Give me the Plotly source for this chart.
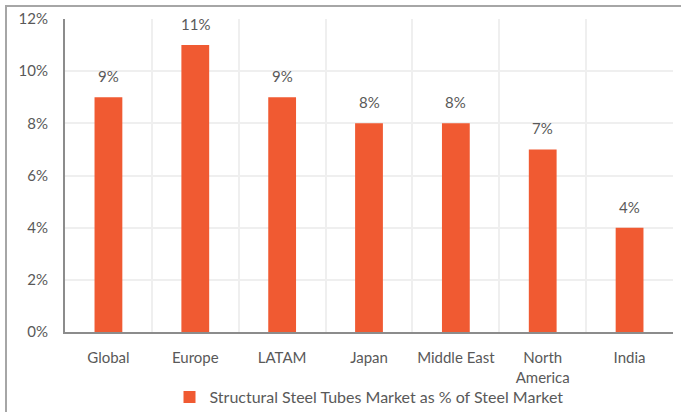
import plotly.graph_objects as go

regions = ["Global", "Europe", "LATAM", "Japan", "Middle East", "North<br>America", "India"]
share_pct = [9, 11, 9, 8, 8, 7, 4]
value_labels = ["9%", "11%", "9%", "8%", "8%", "7%", "4%"]
y_ticks = [0, 2, 4, 6, 8, 10, 12]
y_tick_labels = ["0%", "2%", "4%", "6%", "8%", "10%", "12%"]
series_name = "Structural Steel Tubes Market as % of Steel Market"

BAR = "#F05A32"
TXT = "#595959"
FONT = "Lato"

W, H = 681, 412
L, R, T, B = 65, 8, 19, 80
pw, ph = W - L - R, H - T - B

fig = go.Figure()
fig.add_trace(go.Bar(
    x=regions, y=share_pct, name=series_name,
    marker=dict(color=BAR, line=dict(width=0)),
    width=0.32, showlegend=True, hoverinfo="skip",
))

for r, v, lab in zip(regions, share_pct, value_labels):
    fig.add_annotation(x=r, y=v, text=lab, showarrow=False, yanchor="bottom",
                       yshift=10, font=dict(family=FONT, size=15, color=TXT))

# outer frame (left and top edges)
x0 = (6 - L) / pw
y0 = 1 + (T - 6) / ph
fig.add_shape(type="path", xref="paper", yref="paper",
              path=f"M {x0} -0.5 L {x0} {y0} L 1.1 {y0}",
              line=dict(color="#A6A6A6", width=2))

fig.update_layout(
    width=W, height=H,
    margin=dict(l=L, r=R, t=T, b=B, pad=0, autoexpand=False),
    paper_bgcolor="white", plot_bgcolor="white",
    font=dict(family=FONT, size=15, color=TXT),
    bargap=0.68,
    legend=dict(orientation="h", x=0.5, xanchor="center", y=(332 - 397) / ph, yanchor="middle",
                bgcolor="rgba(0,0,0,0)",
                font=dict(family=FONT, size=16, color=TXT), itemwidth=30, tracegroupgap=0),
    xaxis=dict(type="category", tickson="boundaries", showgrid=True, gridcolor="#EFEFEF", gridwidth=2,
               showline=True, linecolor="#8C8C8C", linewidth=2, ticks="", ticklabelstandoff=11,
               automargin=False,
               tickfont=dict(family=FONT, size=15, color=TXT), range=[-0.5, 6.5]),
    yaxis=dict(range=[0, 12], tickvals=y_ticks, ticktext=y_tick_labels, showgrid=True,
               gridcolor="#EFEFEF", gridwidth=2, showline=True, linecolor="#8C8C8C", linewidth=2,
               ticks="", ticklabelstandoff=12, zeroline=False, automargin=False,
               tickfont=dict(family=FONT, size=15, color=TXT)),
)

fig.write_html("out.html", config={"displayModeBar": False},
               post_script="document.body.style.margin='0';document.body.style.overflow='hidden';")
